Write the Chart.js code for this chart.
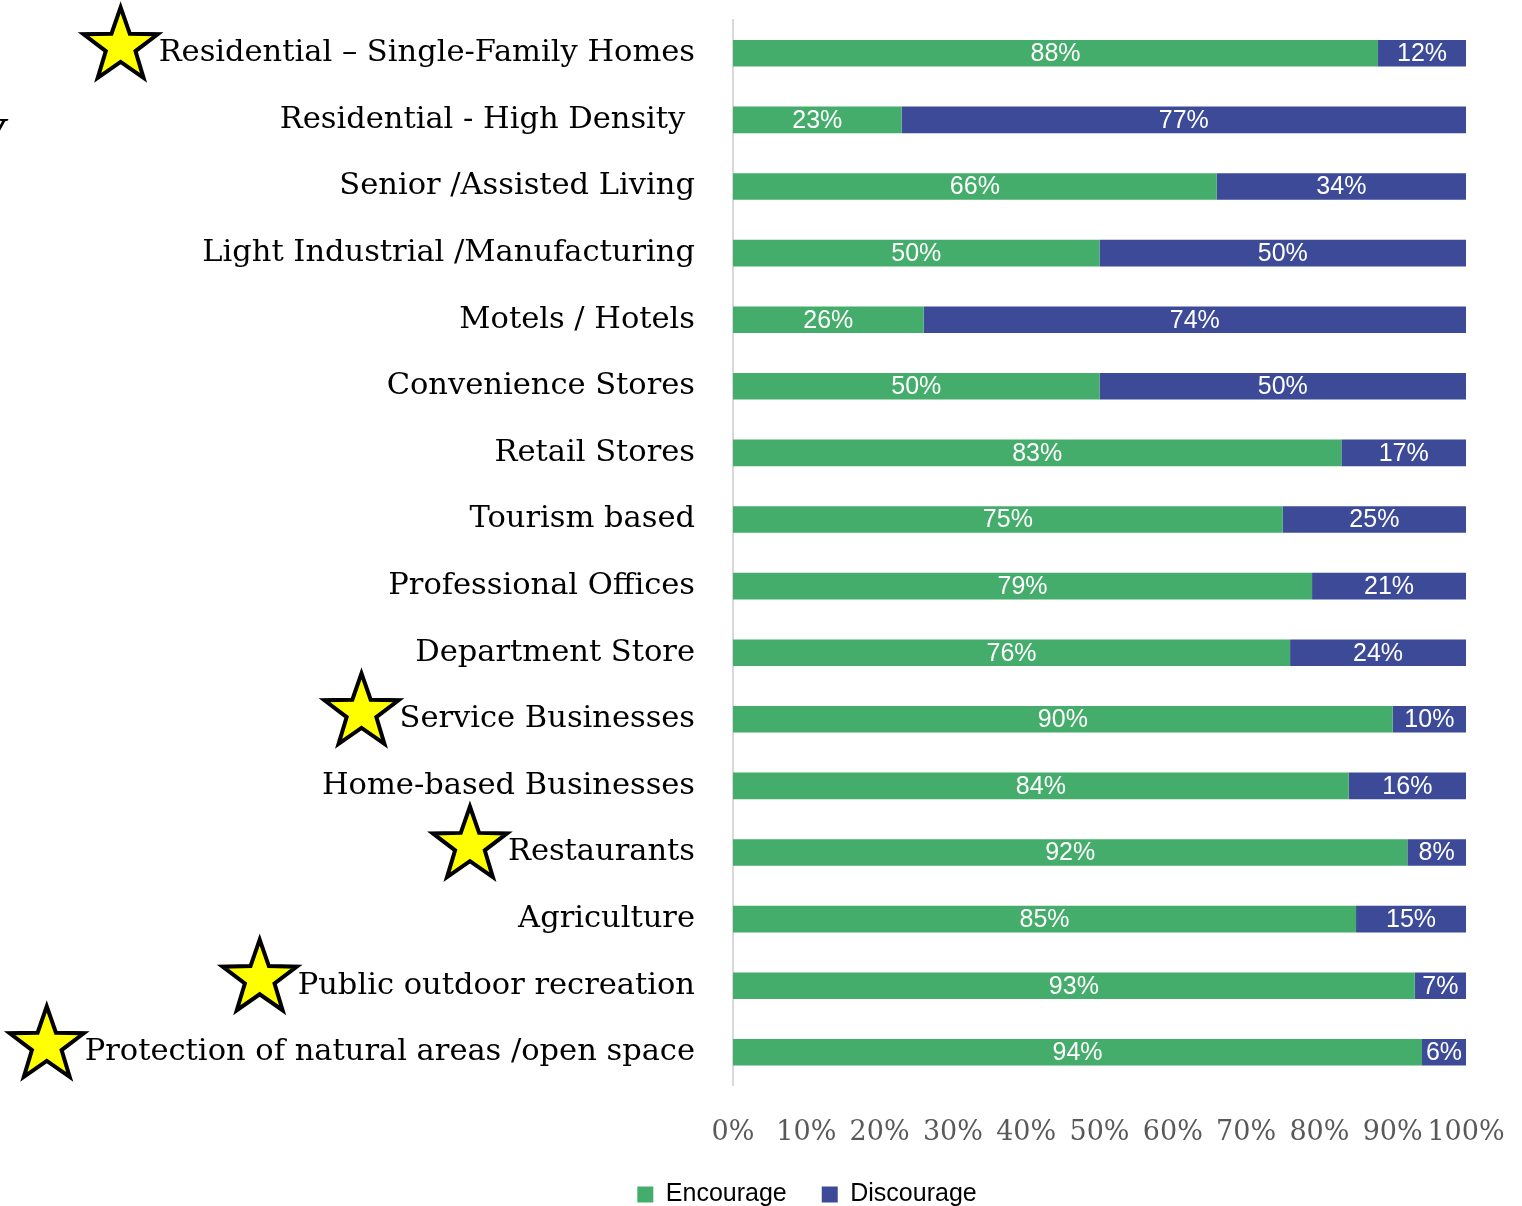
<!DOCTYPE html>
<html>
<head>
<meta charset="utf-8">
<script src="https://cdn.jsdelivr.net/npm/chart.js@4/dist/chart.umd.min.js"></script>
<style>
  html, body { margin: 0; padding: 0; background: #fff; overflow: hidden; }
  #wrap { position: relative; width: 1522px; height: 1217px; }
  #edge { position: absolute; left: -24px; top: 108px; font: italic bold 44px 'Liberation Serif', serif; color: #000; }
</style>
</head>
<body>
<div id="wrap">
  <canvas id="landUseChart"></canvas>
  <div id="edge">V</div>
</div>
<script>
// land use survey: encourage vs discourage

const categories = [
  'Residential \u2013 Single-Family Homes',
  'Residential - High Density ',
  'Senior /Assisted Living',
  'Light Industrial /Manufacturing',
  'Motels / Hotels',
  'Convenience Stores',
  'Retail Stores',
  'Tourism based',
  'Professional Offices',
  'Department Store',
  'Service Businesses',
  'Home-based Businesses',
  'Restaurants',
  'Agriculture',
  'Public outdoor recreation',
  'Protection of natural areas /open space'
];

const encourage = [88, 23, 66, 50, 26, 50, 83, 75, 79, 76, 90, 84, 92, 85, 93, 94];
const discourage = [12, 77, 34, 50, 74, 50, 17, 25, 21, 24, 10, 16, 8, 15, 7, 6];

const xTicks = [0, 10, 20, 30, 40, 50, 60, 70, 80, 90, 100];

// categories marked with a star
const starred = [
  'Residential \u2013 Single-Family Homes',
  'Service Businesses',
  'Restaurants',
  'Public outdoor recreation',
  'Protection of natural areas /open space'
];

const labelFont = { family: "'DejaVu Serif', serif", size: 30.5 };
const labelPad = 30;

// white percentage text inside each bar segment
const barLabels = {
  id: 'barLabels',
  afterDatasetsDraw(chart) {
    const ctx = chart.ctx;
    ctx.save();
    ctx.fillStyle = '#ffffff';
    ctx.font = "25px 'Liberation Sans', sans-serif";
    ctx.textAlign = 'center';
    ctx.textBaseline = 'middle';
    chart.data.datasets.forEach((ds, di) => {
      const meta = chart.getDatasetMeta(di);
      meta.data.forEach((bar, i) => {
        const cx = (bar.x + bar.base) / 2;
        ctx.fillText(ds.data[i] + '%', cx, bar.y + 1);
      });
    });
    ctx.restore();
  }
};

function drawStar(ctx, cx, cy, R) {
  const r = R * 0.4;
  ctx.beginPath();
  for (let k = 0; k < 10; k++) {
    const rad = k % 2 === 0 ? R : r;
    const a = -Math.PI / 2 + k * Math.PI / 5;
    const px = cx + rad * Math.cos(a);
    const py = cy + rad * Math.sin(a);
    if (k === 0) ctx.moveTo(px, py); else ctx.lineTo(px, py);
  }
  ctx.closePath();
  ctx.fillStyle = '#ffff00';
  ctx.fill();
  ctx.lineWidth = 4;
  ctx.lineJoin = 'miter';
  ctx.strokeStyle = '#000000';
  ctx.stroke();
}

// yellow stars just left of the highlighted labels
const labelStars = {
  id: 'labelStars',
  afterLayout(chart) {
    // let the long labels run past the axis box instead of being clipped
    chart.scales.y.left = 0;
  },
  afterDraw(chart) {
    const ctx = chart.ctx;
    const yScale = chart.scales.y;
    ctx.save();
    ctx.font = labelFont.size + 'px ' + labelFont.family;
    starred.forEach(name => {
      const i = categories.indexOf(name);
      if (i < 0) return;
      const y = yScale.getPixelForTick(i);
      const textLeft = yScale.right - 8 - labelPad - ctx.measureText(name).width;
      drawStar(ctx, textLeft - 38, y - 7, 39);
    });
    ctx.restore();
  }
};

const chart = new Chart(document.getElementById('landUseChart'), {
  type: 'bar',
  data: {
    labels: categories,
    datasets: [{
      label: 'Encourage',
      data: encourage,
      backgroundColor: '#45ad6b',
      barPercentage: 0.5,
      categoryPercentage: 0.8
    }, {
      label: 'Discourage',
      data: discourage,
      backgroundColor: '#3c4a98',
      barPercentage: 0.5,
      categoryPercentage: 0.8
    }]
  },
  plugins: [barLabels, labelStars],
  options: {
    indexAxis: 'y',
    responsive: true,
    maintainAspectRatio: false,
    animation: false,
    layout: {
      padding: { left: 148, right: 56, top: 20, bottom: 0 }
    },
    plugins: {
      legend: {
        position: 'bottom',
        labels: {
          boxWidth: 16,
          boxHeight: 16,
          padding: 10,
          color: '#000',
          font: { family: "'Liberation Sans', sans-serif", size: 25 },
          generateLabels(chart) {
            const items = Chart.defaults.plugins.legend.labels.generateLabels(chart);
            // wider gap after the first entry
            items[0].text += '\u2002\u2002';
            return items;
          }
        }
      },
      tooltip: { enabled: false }
    },
    scales: {
      x: {
        stacked: true,
        min: 0,
        max: 100,
        afterBuildTicks(scale) {
          scale.ticks = xTicks.map(v => ({ value: v }));
        },
        afterFit(scale) {
          scale.paddingLeft = 0;
          scale.paddingRight = 0;
        },
        grid: { display: false },
        border: { display: false },
        ticks: {
          autoSkip: false,
          maxRotation: 0,
          padding: 23,
          color: '#595959',
          font: { family: "'DejaVu Serif', serif", size: 27 },
          callback: v => v + '%'
        }
      },
      y: {
        stacked: true,
        afterFit(scale) {
          scale.width = 585;
          scale.paddingTop = 0;
          scale.paddingBottom = 0;
        },
        grid: { display: false },
        border: { display: true, color: '#d9d9d9', width: 2 },
        ticks: {
          autoSkip: false,
          padding: labelPad,
          color: '#000',
          font: labelFont
        }
      }
    }
  }
});
</script>
</body>
</html>
